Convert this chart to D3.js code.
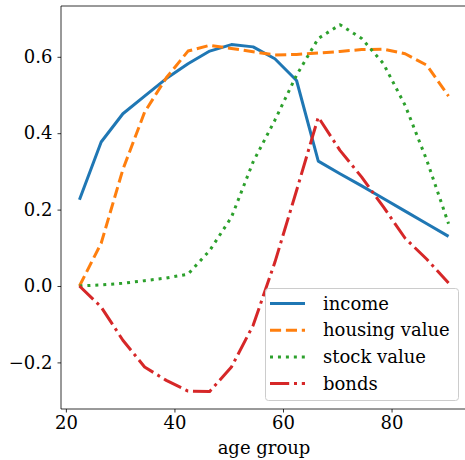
<!DOCTYPE html>
<html>
<head>
<meta charset="utf-8">
<script src="https://cdn.jsdelivr.net/npm/d3@7"></script>
<style>
  html, body { margin: 0; padding: 0; background: #fff; }
  svg { display: block; font-family: "DejaVu Serif", serif; }
</style>
</head>
<body>
<svg id="chart" width="465" height="460"></svg>
<script>
// Age groups (midpoints) and the series plotted against them
const ages = [22.5, 26.5, 30.5, 34.5, 38.5, 42.5, 46.5, 50.5, 54.5, 58.5, 62.5, 66.5, 70.5, 74.5, 78.5, 82.5, 86.5, 90.5];
const income = [0.226, 0.377, 0.451, 0.497, 0.543, 0.582, 0.615, 0.632, 0.626, 0.595, 0.538, 0.327, 0.294, 0.262, 0.229, 0.196, 0.163, 0.130];
const housingValue = [0.0, 0.112, 0.305, 0.455, 0.545, 0.615, 0.630, 0.622, 0.613, 0.605, 0.606, 0.610, 0.614, 0.619, 0.620, 0.608, 0.578, 0.497];
const stockValue = [0.0, 0.003, 0.007, 0.014, 0.021, 0.031, 0.093, 0.180, 0.325, 0.434, 0.552, 0.648, 0.684, 0.648, 0.582, 0.473, 0.329, 0.163];
const bonds = [0.0, -0.055, -0.142, -0.212, -0.247, -0.275, -0.276, -0.212, -0.103, 0.062, 0.250, 0.442, 0.355, 0.285, 0.207, 0.125, 0.070, 0.008];

const seriesNames = ["income", "housing value", "stock value", "bonds"];
const seriesValues = [income, housingValue, stockValue, bonds];
const colors = ["#1f77b4", "#ff7f0e", "#2ca02c", "#d62728"];
const dashes = [null, "11.1,4.8", "3,4.95", "19.2,4.8,3,4.8"];

const xTicks = [20, 40, 60, 80];
const yTicks = [-0.2, 0.0, 0.2, 0.4, 0.6];
const xLabel = "age group";

const svg = d3.select("#chart");
const plot = { left: 61, right: 467, top: 6, bottom: 409 };

const x = d3.scaleLinear().domain([19.1, 93.9]).range([plot.left, plot.right]);
const y = d3.scaleLinear().domain([-0.322, 0.733]).range([plot.bottom, plot.top]);

const fmt = v => (v < 0 ? "\u2212" : "") + Math.abs(v).toFixed(1);

// Series lines
const line = d3.line().x((d, i) => x(ages[i])).y(d => y(d));
seriesValues.forEach((vals, k) => {
  svg.append("path")
    .datum(vals)
    .attr("d", line)
    .attr("fill", "none")
    .attr("stroke", colors[k])
    .attr("stroke-width", 3)
    .attr("stroke-linejoin", "round")
    .attr("stroke-linecap", "butt")
    .attr("stroke-dasharray", dashes[k]);
});

// Axes
const xAxis = d3.axisBottom(x).tickValues(xTicks).tickFormat(d3.format("d")).tickSize(3.5).tickPadding(4);
const yAxis = d3.axisLeft(y).tickValues(yTicks).tickFormat(fmt).tickSize(3.5).tickPadding(5);

const gx = svg.append("g").attr("transform", `translate(0,${plot.bottom})`).call(xAxis);
const gy = svg.append("g").attr("transform", `translate(${plot.left},0)`).call(yAxis);
[gx, gy].forEach(g => {
  g.select(".domain").remove();
  g.selectAll(".tick line").attr("stroke", "#000").attr("stroke-width", 0.8);
  g.selectAll(".tick text").attr("fill", "#000").attr("font-size", 18)
    .attr("font-family", "DejaVu Serif, serif");
});

// Frame: left, top and bottom spines (the right one falls past the page edge)
const spine = (x1, y1, x2, y2) => svg.append("line")
  .attr("x1", x1).attr("y1", y1).attr("x2", x2).attr("y2", y2)
  .attr("stroke", "#000").attr("stroke-width", 0.8);
spine(plot.left, plot.top, plot.right, plot.top);
spine(plot.left, plot.bottom, plot.right, plot.bottom);
spine(plot.left, plot.top, plot.left, plot.bottom);

// Axis label
svg.append("text")
  .attr("x", (plot.left + plot.right) / 2)
  .attr("y", 454)
  .attr("text-anchor", "middle")
  .attr("font-size", 18)
  .text(xLabel);

// Legend
const legend = svg.append("g").attr("transform", "translate(265,288)");
legend.append("rect")
  .attr("x", 0.5).attr("y", 0.5).attr("width", 193).attr("height", 112)
  .attr("rx", 3).attr("ry", 3)
  .attr("fill", "#fff").attr("fill-opacity", 0.8)
  .attr("stroke", "#cccccc").attr("stroke-width", 1);
seriesNames.forEach((name, k) => {
  const ly = 15.5 + k * 26.7;
  legend.append("line")
    .attr("x1", 5).attr("x2", 40).attr("y1", ly).attr("y2", ly)
    .attr("stroke", colors[k]).attr("stroke-width", 3)
    .attr("stroke-dasharray", dashes[k]);
  legend.append("text")
    .attr("x", 58).attr("y", ly + 6)
    .attr("font-size", 18)
    .text(name);
});
</script>
</body>
</html>
